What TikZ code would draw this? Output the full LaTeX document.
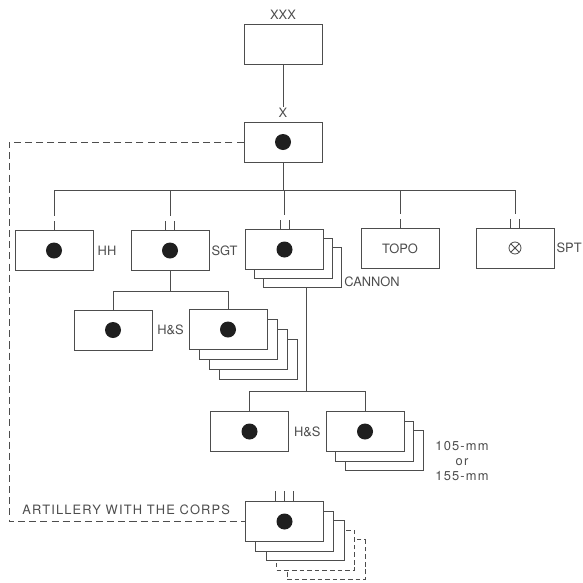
\documentclass[tikz,border=0pt]{standalone}
\usepackage{fontspec}
\setmainfont{TeX Gyre Heros}
\usetikzlibrary{calc,positioning}

\definecolor{ink}{HTML}{4D4D4D}
\definecolor{blot}{HTML}{1F1F1F}

\begin{document}
\begin{tikzpicture}[
  x=0.03cm,y=-0.03cm,
  line/.style={line width=0.7pt,ink},
  corpsline/.style={line width=0.7pt,ink,dash pattern=on 6pt off 3.5pt},
  unit/.style={draw=ink,line width=0.7pt,fill=white,
    minimum width=2.34cm,minimum height=1.2cm,inner sep=0pt},
  ghost/.style={unit,dash pattern=on 4pt off 2.5pt},
  unitdot/.style={unit,path picture={
    \fill[blot] (path picture bounding box.center) circle (0.24cm);}},
  lbl/.style={font=\fontsize{11}{12}\selectfont,text=ink,inner sep=1pt},
  widelbl/.style={lbl,font=\fontsize{11}{12.5}\selectfont\addfontfeature{LetterSpace=9}}
]
  \useasboundingbox (0,0) rectangle (583,583);

  % Corps and the brigade under it.
  \node[unit] (corps) at (283,44) {};
  \node[lbl,above=2pt of corps] (corps-lbl) {XXX};
  \node[unitdot] (brig) at (283,142) {};
  \node[lbl,above=2pt of brig] (brig-lbl) {X};
  \draw[line] (corps) -- (brig-lbl);

  % Units of the brigade, hung from one bus.
  \coordinate (bus) at (283,190);
  \node[unitdot] (hh) at (54,250.5) {};
  \node[unitdot] (sgt) at (170,250.5) {};
  \foreach \k in {2,1}
    \node[unit] (cannon-\k) at (284.5+9*\k,249.5+9*\k) {};
  \node[unitdot] (cannon) at (284.5,249.5) {};
  \node[unit,lbl] (topo) at (400,248.5) {TOPO};
  \node[unit] (spt) at (515,248) {};
  \draw[line] (spt.center) circle (0.18cm);
  \foreach \a in {45,135,225,315}
    \draw[line] (spt.center) -- ++(\a:0.18cm);
  \fill[ink] (spt.center) circle (0.04cm);

  \draw[line] (brig) -- (bus);
  \draw[line] (hh.north |- bus) -- (spt.north |- bus);
  \foreach \u in {hh,sgt,cannon,topo,spt}
    \draw[line] (\u.north |- bus) -- ($(\u.north)+(0,-14)$);

  % Size marks above the boxes.
  \foreach \u in {hh,topo}
    \draw[line] (\u.north) -- ++(0,-9);
  \foreach \u in {sgt,cannon,spt}
    \foreach \dx in {-4.5,4.5}
      \draw[line] ($(\u.north)+(\dx,0)$) -- ++(0,-9);

  \node[lbl,right=2.5pt of hh] (hh-lbl) {HH};
  \node[lbl,right=0.7pt of sgt] (sgt-lbl) {SGT};
  \node[lbl,right=0.7pt of spt] (spt-lbl) {SPT};
  \node[lbl,anchor=base west] (cannon-lbl)
    at ($(cannon-2.south east)+(1,-1)$) {CANNON};

  % Battalion under SGT.
  \coordinate (sgt-bus) at (170,291);
  \node[unitdot] (sgt-hs) at (113,330) {};
  \foreach \k in {3,2,1}
    \node[unit] (sgt-bn-\k) at (228+10*\k,329.5+10*\k) {};
  \node[unitdot] (sgt-bn) at (228,329.5) {};
  \draw[line] (sgt) -- (sgt-bus);
  \draw[line] (sgt-hs.north |- sgt-bus) -- (sgt-bn.north |- sgt-bus);
  \draw[line] (sgt-hs.north |- sgt-bus) -- (sgt-hs.north);
  \draw[line] (sgt-bn.north |- sgt-bus) -- (sgt-bn.north);
  \node[lbl] (sgt-hs-lbl) at ($(sgt-hs.east)!0.5!(sgt-bn.west)$) {H\&S};

  % Battalion under the cannon battalions.
  \coordinate (ds-bus) at (306.5,391);
  \node[unitdot] (ds-hs) at (249.5,431.5) {};
  \foreach \k in {2,1}
    \node[unit] (ds-bn-\k) at (365+9.5*\k,431.5+9.5*\k) {};
  \node[unitdot] (ds-bn) at (365,431.5) {};
  \draw[line] (ds-bus |- cannon-2.south) -- (ds-bus);
  \draw[line] (ds-hs.north |- ds-bus) -- (ds-bn.north |- ds-bus);
  \draw[line] (ds-hs.north |- ds-bus) -- (ds-hs.north);
  \draw[line] (ds-bn.north |- ds-bus) -- (ds-bn.north);
  \node[lbl] (ds-hs-lbl) at ($(ds-hs.east)!0.5!(ds-bn.west)$) {H\&S};
  \node[widelbl,align=center] (ds-bn-lbl) at (462,461) {105-mm\\or\\155-mm};

  % Artillery with the corps.
  \foreach \k in {4,3}
    \node[ghost] (group-\k) at (284.5+10.4*\k,521.5+9.6*\k) {};
  \foreach \k in {2,1}
    \node[unit] (group-\k) at (284.5+10.4*\k,521.5+9.6*\k) {};
  \node[unitdot] (group) at (284.5,521.5) {};
  \foreach \dx in {-9,0,9}
    \draw[line] ($(group.north)+(\dx,0)$) -- ++(0,-10);
  \coordinate (edge) at (9,0);
  \draw[corpsline] (brig.west) -| (edge |- group.west) -- (group.west);
  \node[widelbl,anchor=base west] (group-lbl) at (21,514) {ARTILLERY WITH THE CORPS};
\end{tikzpicture}
\end{document}
